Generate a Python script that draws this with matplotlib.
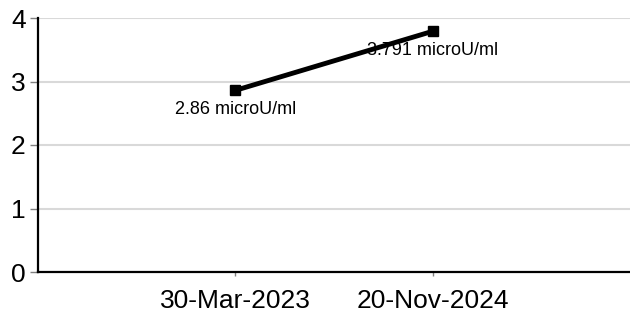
import matplotlib.pyplot as plt

dates = ['30-Mar-2023', '20-Nov-2024']
values = [2.86, 3.791]
labels = ['2.86 microU/ml', '3.791 microU/ml']

plt.rcParams['font.family'] = ['Liberation Sans', 'DejaVu Sans']

fig = plt.figure(figsize=(6.3, 3.19), dpi=100)
ax = fig.add_axes([38 / 630, 47 / 319, 592 / 630, 254 / 319])

x = list(range(1, len(values) + 1))
ax.plot(x, values, color='black', lw=3.5, marker='s', ms=7.5, zorder=3)
for xi, v, lab in zip(x, values, labels):
    ax.annotate(lab, (xi, v), xytext=(0, -14), textcoords='offset points',
                ha='center', va='center', fontsize=13, zorder=2)

ax.set_xlim(0, 3)
ax.set_ylim(0, 4)
ax.set_xticks(x)
ax.set_xticklabels(dates)
ax.set_yticks([0, 1, 2, 3, 4])
ax.yaxis.grid(True, color='#d9d9d9', lw=1.5)
ax.set_axisbelow(True)

for s in ['top', 'right']:
    ax.spines[s].set_visible(False)
ax.spines['left'].set_linewidth(1.6)
ax.spines['bottom'].set_linewidth(1.6)

ax.tick_params(axis='y', length=6, width=1, color='#808080', pad=3, labelsize=19)
ax.tick_params(axis='x', length=3, width=1, color='#808080', pad=9, labelsize=19)

fig.savefig('out.png')
